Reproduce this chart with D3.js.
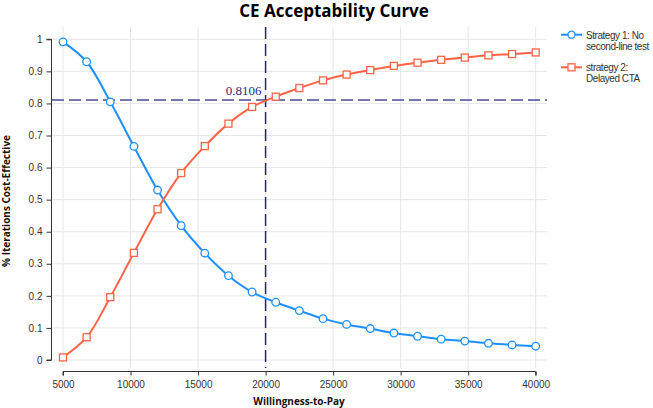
<!DOCTYPE html>
<html><head><meta charset="utf-8">
<script src="https://cdn.jsdelivr.net/npm/d3@7"></script>
<style>
html,body{margin:0;padding:0;background:#fff;}
svg{display:block;}
</style></head>
<body><svg id="c" width="653" height="408"></svg>
<script>
const wtp = [5000,6750,8500,10250,12000,13750,15500,17250,19000,20750,22500,24250,26000,27750,29500,31250,33000,34750,36500,38250,40000];
const strategy1 = [0.992,0.930,0.805,0.666,0.530,0.419,0.333,0.263,0.212,0.180,0.154,0.129,0.111,0.098,0.084,0.074,0.065,0.059,0.052,0.047,0.043];
const strategy2 = [0.008,0.071,0.196,0.334,0.470,0.583,0.667,0.737,0.789,0.821,0.848,0.872,0.890,0.904,0.917,0.927,0.936,0.943,0.950,0.954,0.959];
const seriesNames = ["Strategy 1: No\nsecond-line test","strategy 2:\nDelayed CTA"];
const xTicks = [5000,10000,15000,20000,25000,30000,35000,40000];
const yTicks = [0,0.1,0.2,0.3,0.4,0.5,0.6,0.7,0.8,0.9,1];
const thresholdX = 20000;
const thresholdY = 0.8106;

const svg = d3.select("#c");
const x = d3.scaleLinear().domain([5000,40000]).range([63,535.7]);
const y = d3.scaleLinear().domain([0,1]).range([360,39.3]);
const pL = 52, pR = 547, pT = 27, pB = 368;
const colors = ["#1e90ff","#ff6347"];

// grid
const g = svg.append("g");
g.selectAll(".vg").data(xTicks).enter().append("line")
  .attr("x1",d=>x(d)).attr("x2",d=>x(d)).attr("y1",pT).attr("y2",pB)
  .attr("stroke","#e6e6e6").attr("stroke-width",1);
g.selectAll(".hg").data(yTicks).enter().append("line")
  .attr("x1",pL).attr("x2",pR).attr("y1",d=>y(d)).attr("y2",d=>y(d))
  .attr("stroke","#e6e6e6").attr("stroke-width",1);

// axes
const xAxis = d3.axisBottom(x).tickValues(xTicks).tickSize(4).tickFormat(d3.format("d"));
const xa = svg.append("g").attr("transform","translate(0,371.5)").call(xAxis);
xa.select(".domain").attr("stroke","#333").attr("d",`M${x(5000)},4V0H${x(40000)}V4`);
xa.selectAll("text").attr("font-family","Helvetica, Arial, 'Liberation Sans', sans-serif").attr("font-size","10px").attr("fill","#333").attr("dy","0.9em");
xa.selectAll(".tick line").attr("stroke","#333");

const yAxis = d3.axisLeft(y).tickValues(yTicks).tickSize(5).tickFormat(d=>d3.format("~g")(d));
const ya = svg.append("g").attr("transform","translate(51.5,0)").call(yAxis);
ya.select(".domain").attr("stroke","#333").attr("d",`M-5,${y(1)}H0V${y(0)}H-5`);
ya.selectAll("text").attr("font-family","Helvetica, Arial, 'Liberation Sans', sans-serif").attr("font-size","10px").attr("fill","#333").attr("x",-9);
ya.selectAll(".tick line").attr("stroke","#333");

// threshold lines
svg.append("line").attr("x1",pL).attr("x2",pR).attr("y1",y(thresholdY)).attr("y2",y(thresholdY))
  .attr("stroke","#4b4b96").attr("stroke-width",1.5).attr("stroke-dasharray","12,5");
svg.append("line").attr("x1",x(thresholdX)).attr("x2",x(thresholdX)).attr("y1",pT).attr("y2",pB)
  .attr("stroke","#23237a").attr("stroke-width",1.5).attr("stroke-dasharray","12,5");
svg.append("text").attr("x",x(thresholdX)-4).attr("y",y(thresholdY)-5).attr("text-anchor","end")
  .attr("font-family","'Liberation Serif','Times New Roman',serif").attr("font-size","13px").attr("fill","#2a2a7a")
  .text(d3.format(".4f")(thresholdY));

// series
const data = [strategy1,strategy2];
const line = d3.line().x((d,i)=>x(wtp[i])).y(d=>y(d)).curve(d3.curveCatmullRom);
data.forEach((s,k)=>{
  svg.append("path").datum(s).attr("d",line).attr("fill","none").attr("stroke",colors[k]).attr("stroke-width",2);
});
svg.selectAll(".c1").data(strategy1).enter().append("circle")
  .attr("cx",(d,i)=>x(wtp[i])).attr("cy",d=>y(d)).attr("r",3.8)
  .attr("fill","#fff").attr("stroke",colors[0]).attr("stroke-width",1.3);
svg.selectAll(".s2").data(strategy2).enter().append("rect")
  .attr("x",(d,i)=>x(wtp[i])-3.5).attr("y",d=>y(d)-3.5).attr("width",7).attr("height",7)
  .attr("fill","#fff").attr("stroke",colors[1]).attr("stroke-width",1.3);

// title
svg.append("text").attr("x",334).attr("y",17).attr("text-anchor","middle")
  .attr("font-family","'Open Sans', sans-serif").attr("font-weight","bold").attr("font-size","17px").attr("fill","#000")
  .text("CE Acceptability Curve");

// axis titles
svg.append("text").attr("x",299).attr("y",405).attr("text-anchor","middle")
  .attr("font-family","'Open Sans', sans-serif").attr("font-weight","bold").attr("font-size","10px").attr("fill","#111")
  .text("Willingness-to-Pay");
svg.append("text").attr("transform","translate(10,201) rotate(-90)").attr("text-anchor","middle")
  .attr("font-family","'Open Sans', sans-serif").attr("font-weight","bold").attr("font-size","10px").attr("fill","#111")
  .text("% Iterations Cost-Effective");

// legend
const lg = svg.append("g");
const legY = [34.7, 67.3];
seriesNames.forEach((nm,k)=>{
  const yy = legY[k];
  lg.append("line").attr("x1",561).attr("x2",582).attr("y1",yy).attr("y2",yy).attr("stroke",colors[k]).attr("stroke-width",2);
  if(k===0) lg.append("circle").attr("cx",571.5).attr("cy",yy).attr("r",3.5).attr("fill","#fff").attr("stroke",colors[k]).attr("stroke-width",1.3);
  else lg.append("rect").attr("x",568).attr("y",yy-3.5).attr("width",7).attr("height",7).attr("fill","#fff").attr("stroke",colors[k]).attr("stroke-width",1.3);
  const t = lg.append("text").attr("font-family","Helvetica, Arial, 'Liberation Sans', sans-serif").attr("font-size","10px")
    .attr("letter-spacing","-0.45px").attr("fill","#333");
  nm.split("\n").forEach((ln,j)=>{
    t.append("tspan").attr("x",586).attr("y",yy+4+j*11).text(ln);
  });
});
</script></body></html>
